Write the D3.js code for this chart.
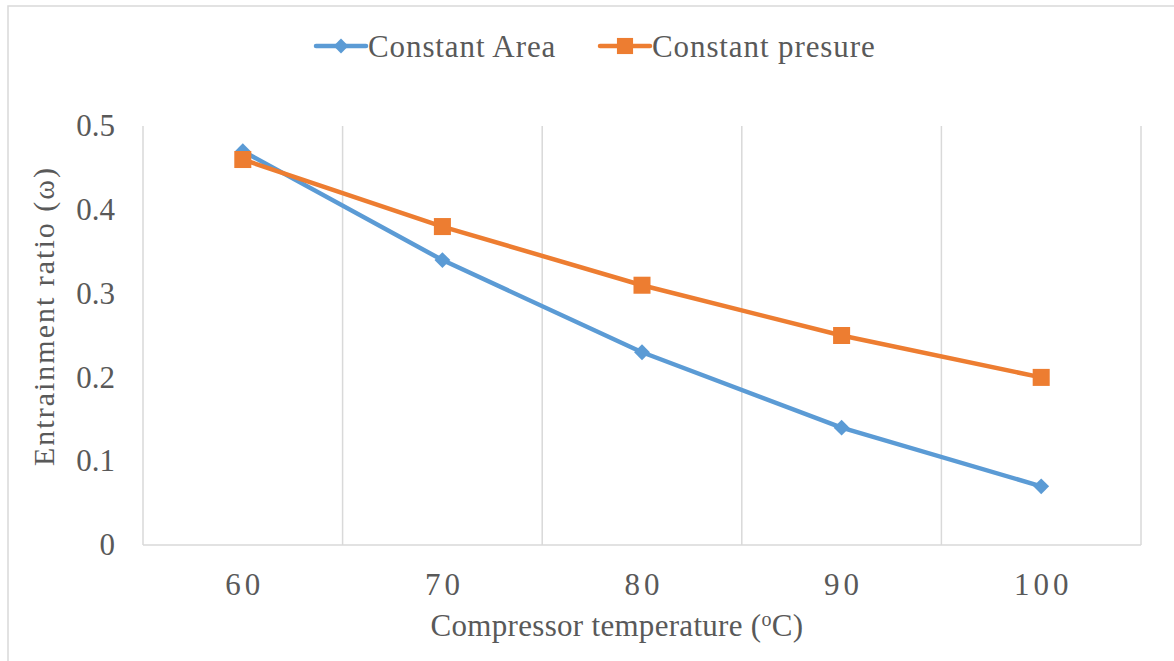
<!DOCTYPE html>
<html>
<head>
<meta charset="utf-8">
<script src="https://cdn.jsdelivr.net/npm/d3@7"></script>
<style>
  html, body { margin: 0; padding: 0; background: #fff; }
  svg { display: block; }
</style>
</head>
<body>
<script>
// Chart data
const temperatures = ["60", "70", "80", "90", "100"];
const constantArea = [0.47, 0.34, 0.23, 0.14, 0.07];
const constantPressure = [0.46, 0.38, 0.31, 0.25, 0.20];
const yTicks = [0, 0.1, 0.2, 0.3, 0.4, 0.5];
const seriesNames = ["Constant Area", "Constant presure"];

const width = 1174;
const height = 661;
const margin = { top: 126, right: 33, bottom: 116, left: 143 };
const innerWidth = width - margin.left - margin.right;
const innerHeight = height - margin.top - margin.bottom;

const textColor = "#595959";
const gridColor = "#D9D9D9";
const colors = ["#5B9BD5", "#ED7D31"];
const font = "'Liberation Serif', 'Times New Roman', serif";

const svg = d3.select("body")
  .append("svg")
  .attr("width", width)
  .attr("height", height);

// Chart border: only the left and top edges are visible in the picture
svg.append("path")
  .attr("d", `M8,${height} L8,6 L${width},6`)
  .attr("fill", "none")
  .attr("stroke", gridColor)
  .attr("stroke-width", 1.5);

// Scales in page coordinates
const xScale = d3.scaleBand()
  .domain(temperatures)
  .range([margin.left, margin.left + innerWidth]);

const yScale = d3.scaleLinear()
  .domain([0, 0.5])
  .range([margin.top + innerHeight, margin.top]);

const xMid = d => xScale(d) + xScale.bandwidth() / 2;

// Vertical gridlines at category boundaries
const boundaries = temperatures.map(d => xScale(d)).concat([xScale.range()[1]]);
svg.selectAll(".vgrid")
  .data(boundaries)
  .enter()
  .append("line")
  .attr("x1", d => d)
  .attr("x2", d => d)
  .attr("y1", yScale(0.5))
  .attr("y2", yScale(0))
  .attr("stroke", gridColor)
  .attr("stroke-width", 1.5);

// X axis line
svg.append("line")
  .attr("x1", xScale.range()[0])
  .attr("x2", xScale.range()[1])
  .attr("y1", yScale(0))
  .attr("y2", yScale(0))
  .attr("stroke", gridColor)
  .attr("stroke-width", 1.5);

// Y tick labels
svg.selectAll(".ytick")
  .data(yTicks)
  .enter()
  .append("text")
  .attr("x", margin.left - 28)
  .attr("y", d => yScale(d))
  .attr("dy", "0.33em")
  .attr("text-anchor", "end")
  .attr("fill", textColor)
  .attr("font-family", font)
  .attr("font-size", "31px")
  .text(d => d === 0 ? "0" : d3.format(".1f")(d));

// X tick labels
svg.selectAll(".xtick")
  .data(temperatures)
  .enter()
  .append("text")
  .attr("x", d => xMid(d) + 2)
  .attr("y", yScale(0) + 50)
  .attr("text-anchor", "middle")
  .attr("fill", textColor)
  .attr("font-family", font)
  .attr("font-size", "31px")
  .attr("letter-spacing", "4px")
  .text(d => d);

// Axis titles
svg.append("text")
  .attr("x", 617)
  .attr("y", 636)
  .attr("text-anchor", "middle")
  .attr("fill", textColor)
  .attr("font-family", font)
  .attr("font-size", "31px")
  .attr("letter-spacing", "0.3px")
  .html("Compressor temperature (<tspan dy='-10' font-size='20px'>o</tspan><tspan dy='10'>C)</tspan>");

svg.append("text")
  .attr("transform", "translate(54, 316) rotate(-90)")
  .attr("text-anchor", "middle")
  .attr("fill", textColor)
  .attr("font-family", font)
  .attr("font-size", "30px")
  .attr("letter-spacing", "2px")
  .text("Entrainment ratio (\u03c9)");

// Lines
const series = [constantArea, constantPressure];
const line = d3.line()
  .x((d, i) => xMid(temperatures[i]))
  .y(d => yScale(d));

series.forEach((values, s) => {
  svg.append("path")
    .datum(values)
    .attr("d", line)
    .attr("fill", "none")
    .attr("stroke", colors[s])
    .attr("stroke-width", 4.5)
    .attr("stroke-linejoin", "round");
});

const diamond = d3.symbol().type(d3.symbolDiamond2).size(160);
const square = d3.symbol().type(d3.symbolSquare).size(290);
const symbols = [diamond, square];

series.forEach((values, s) => {
  svg.selectAll(".marker" + s)
    .data(values)
    .enter()
    .append("path")
    .attr("d", symbols[s])
    .attr("transform", (d, i) => `translate(${xMid(temperatures[i])}, ${yScale(d)})`)
    .attr("fill", colors[s]);
});

// Legend
const legendX = [316, 600];
const legendY = 46;
seriesNames.forEach((name, s) => {
  const lg = svg.append("g").attr("transform", `translate(${legendX[s]}, ${legendY})`);
  lg.append("line")
    .attr("x1", 0)
    .attr("x2", 50)
    .attr("y1", 0)
    .attr("y2", 0)
    .attr("stroke", colors[s])
    .attr("stroke-width", 4.5)
    .attr("stroke-linecap", "round");
  lg.append("path")
    .attr("d", s === 0 ? d3.symbol().type(d3.symbolDiamond2).size(140)() : d3.symbol().type(d3.symbolSquare).size(260)())
    .attr("transform", "translate(25, 0)")
    .attr("fill", colors[s]);
  lg.append("text")
    .attr("x", 52)
    .attr("y", 11)
    .attr("fill", textColor)
    .attr("font-family", font)
    .attr("font-size", "31px")
    .attr("letter-spacing", "0.9px")
    .text(name);
});
</script>
</body>
</html>
